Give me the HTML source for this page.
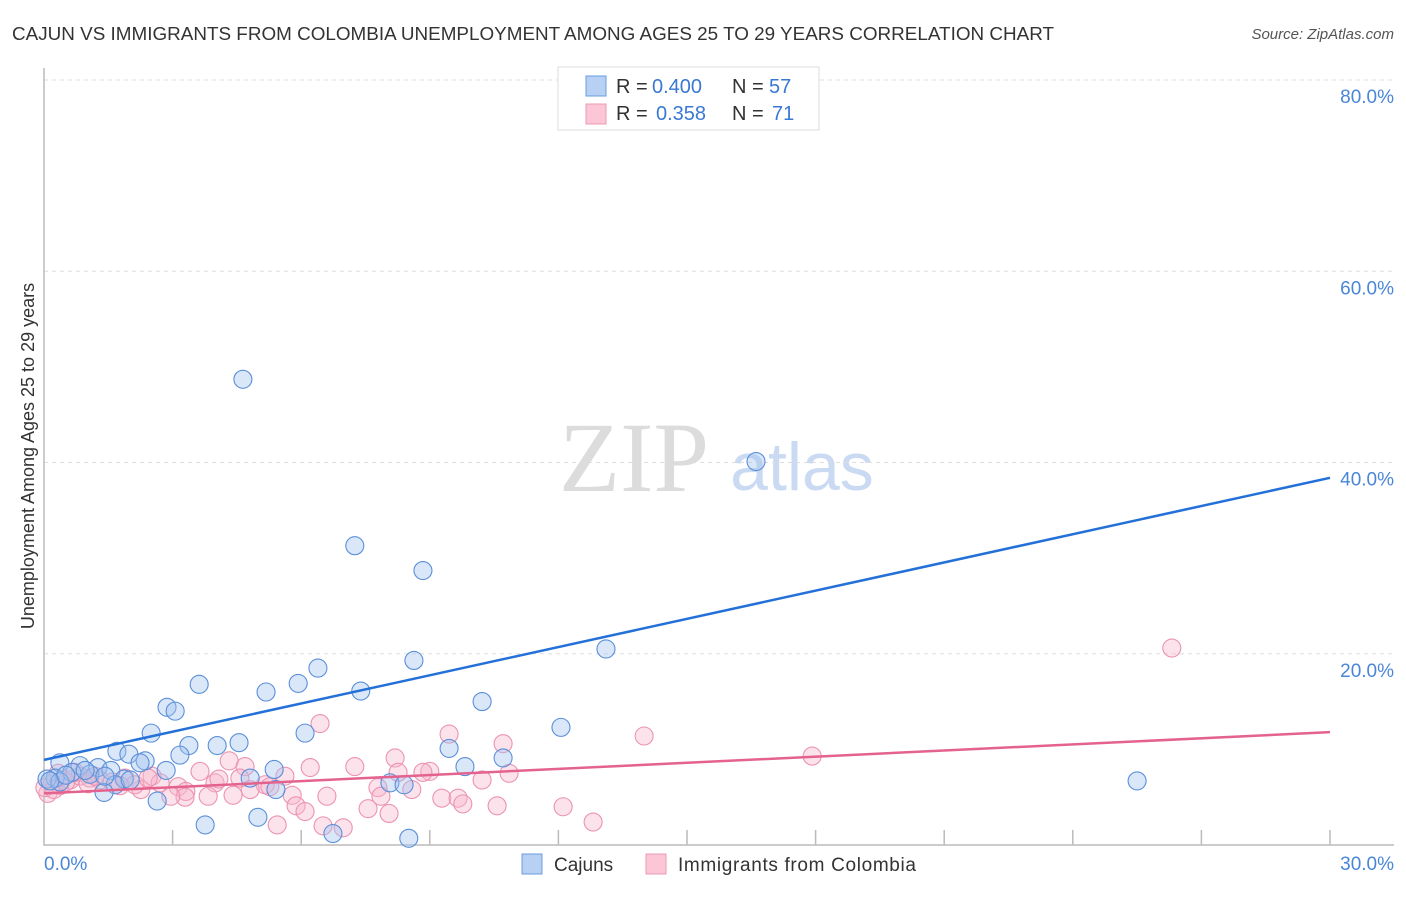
<!DOCTYPE html>
<html><head><meta charset="utf-8"><style>
body{margin:0;background:#fff;font-family:"Liberation Sans",sans-serif;}
</style></head><body>
<svg width="1406" height="892" viewBox="0 0 1406 892" style="font-family:'Liberation Sans',sans-serif">
<text x="12" y="40" font-size="18" fill="#333" textLength="1042" lengthAdjust="spacingAndGlyphs">CAJUN VS IMMIGRANTS FROM COLOMBIA UNEMPLOYMENT AMONG AGES 25 TO 29 YEARS CORRELATION CHART</text>
<text x="1394" y="39" font-size="15" fill="#555" font-style="italic" text-anchor="end">Source: ZipAtlas.com</text>
<g>
<text x="634" y="491" font-size="100" fill="#dcdcdc" style="font-family:'Liberation Serif',serif" text-anchor="middle">ZIP</text>
<text x="802" y="490" font-size="68" fill="#c9daf2" text-anchor="middle">atlas</text>
</g>
<g id="grid"></g>
<g id="axes"></g>
<g id="pts"></g>
<g id="lines"></g>
<text transform="translate(34,456) rotate(-90)" font-size="18" fill="#333" text-anchor="middle">Unemployment Among Ages 25 to 29 years</text>
<text x="44" y="870" font-size="19" fill="#4a86d8">0.0%</text>
<text x="1394" y="870" font-size="19" fill="#4a86d8" text-anchor="end">30.0%</text>
<g>
<rect x="558" y="67" width="261" height="63" fill="#fff" stroke="#ddd"/>
<rect x="586" y="76" width="20" height="20" fill="#b7d0f4" stroke="#6a9ee0"/>
<rect x="586" y="104" width="20" height="20" fill="#fbc6d6" stroke="#ee9ab4"/>
<text x="616" y="93" font-size="20" fill="#333">R =</text>
<text x="652" y="93" font-size="20" fill="#3a78d4">0.400</text>
<text x="732" y="93" font-size="20" fill="#333">N =</text>
<text x="769" y="93" font-size="20" fill="#3a78d4">57</text>
<text x="616" y="120" font-size="20" fill="#333">R =</text>
<text x="656" y="120" font-size="20" fill="#3a78d4">0.358</text>
<text x="732" y="120" font-size="20" fill="#333">N =</text>
<text x="772" y="120" font-size="20" fill="#3a78d4">71</text>
</g>
<g>
<rect x="522" y="854" width="20" height="20" fill="#b7d0f4" stroke="#6a9ee0"/>
<text x="554" y="871" font-size="19" fill="#333">Cajuns</text>
<rect x="646" y="854" width="20" height="20" fill="#fbc6d6" stroke="#ee9ab4"/>
<text x="678" y="871" font-size="19" fill="#333" textLength="238">Immigrants from Colombia</text>
</g>
</svg>
<script>
const yTicks=[20,40,60,80];
const yTickLabels=["20.0%","40.0%","60.0%","80.0%"];
const xTicks=[3,6,9,12,15,18,21,24,27,30];
const blueX=[4.64,16.61,7.25,8.84,13.11,8.63,6.39,3.62,5.93,5.18,7.39,10.22,2.87,3.06,2.50,6.09,12.06,4.55,3.38,4.04,1.70,9.45,1.98,3.17,2.36,10.71,0.37,0.84,1.26,0.65,1.56,2.85,9.82,1.87,4.81,1.07,0.26,0.07,5.37,8.07,8.40,1.66,1.40,5.41,25.50,2.64,3.76,4.99,6.74,8.51,0.37,0.96,2.24,0.14,0.51,1.42,2.01];
const blueY=[48.7,40.1,31.3,28.7,20.5,19.3,18.5,16.8,16.9,16.0,16.1,15.0,14.4,14.0,11.7,11.7,12.3,10.7,10.4,10.4,9.8,10.1,9.5,9.4,8.8,9.1,8.6,8.3,8.1,7.6,7.8,7.8,8.2,6.9,7.0,7.4,7.0,6.9,7.9,6.5,6.3,6.3,5.5,5.8,6.7,4.6,2.1,2.9,1.2,0.7,6.6,7.8,8.6,6.7,7.3,7.2,6.8];
const pinkX=[26.31,6.44,9.45,14.0,10.71,17.92,8.19,4.32,7.25,4.69,10.85,9.0,8.84,8.26,3.64,5.62,2.52,4.57,10.22,7.79,8.58,2.71,3.13,6.21,5.16,5.27,3.99,4.08,4.81,2.26,3.31,3.83,4.41,3.29,2.96,5.79,6.60,7.86,9.28,9.66,9.77,10.57,12.11,5.88,6.09,7.56,8.05,5.44,6.51,6.98,12.81,0.09,0.19,0.37,0.61,0.84,1.31,1.59,1.89,2.12,0.33,0.72,1.07,0.02,0.23,0.51,1.03,1.19,1.77,2.43];
const pinkY=[20.6,12.7,11.6,11.4,10.6,9.3,9.1,8.8,8.2,8.2,7.5,7.7,7.6,7.6,7.7,7.2,7.2,7.0,6.8,6.0,5.8,6.5,6.1,8.1,6.3,6.1,6.5,6.9,5.8,5.8,5.6,5.1,5.2,5.0,5.1,5.2,5.1,5.1,4.9,4.9,4.3,4.1,4.0,4.1,3.5,3.8,3.3,2.1,2.0,1.8,2.4,5.4,6.4,6.2,6.8,7.2,6.8,6.6,7.0,6.3,7.5,7.6,7.0,6.0,5.8,6.6,6.4,7.2,6.2,7.0];
const blueTrend=[8.9,38.4];
const pinkTrend=[5.4,11.8];
const NS="http://www.w3.org/2000/svg";
function sx(v){return 44+v/30*1286;}
function sy(v){return 845-v/80*765;}
function mk(t,a,p){const e=document.createElementNS(NS,t);for(const k in a)e.setAttribute(k,a[k]);p.appendChild(e);return e;}
const grid=document.getElementById('grid'),axes=document.getElementById('axes'),pts=document.getElementById('pts'),lines=document.getElementById('lines');
yTicks.forEach((t,i)=>{
 const l=mk('line',{x1:44,x2:1394,y1:sy(t),y2:sy(t),stroke:'#ddd','stroke-dasharray':'4,4'},grid);
 
 
 const tx=mk('text',{x:1394,y:sy(t)+23,'font-size':19,fill:'#4a86d8','text-anchor':'end'},grid);
 tx.textContent=yTickLabels[i];
 
 
});
const ax=mk('path',{d:'M44 68V845H1394',fill:'none',stroke:'#bbb','stroke-width':1.5},axes);


xTicks.forEach(t=>{
 const l=mk('line',{x1:sx(t),x2:sx(t),y1:830,y2:845,stroke:'#bbb','stroke-width':1.5},axes);
 
 
});
pinkX.forEach((x,i)=>{
 const c=mk('circle',{cx:sx(x),cy:sy(pinkY[i]),r:9,fill:'rgba(248,182,204,0.4)',stroke:'#ec93b0','stroke-width':1.1},pts);
 
 
});
blueX.forEach((x,i)=>{
 const c=mk('circle',{cx:sx(x),cy:sy(blueY[i]),r:9,fill:'rgba(160,196,240,0.4)',stroke:'#5b8fd9','stroke-width':1.1},pts);
 
 
});
const bl=mk('line',{x1:sx(0),y1:sy(blueTrend[0]),x2:sx(30),y2:sy(blueTrend[1]),stroke:'#2370d8','stroke-width':2.5},lines);


const pl=mk('line',{x1:sx(0),y1:sy(pinkTrend[0]),x2:sx(30),y2:sy(pinkTrend[1]),stroke:'#e4628e','stroke-width':2.5},lines);


</script>
</body></html>
